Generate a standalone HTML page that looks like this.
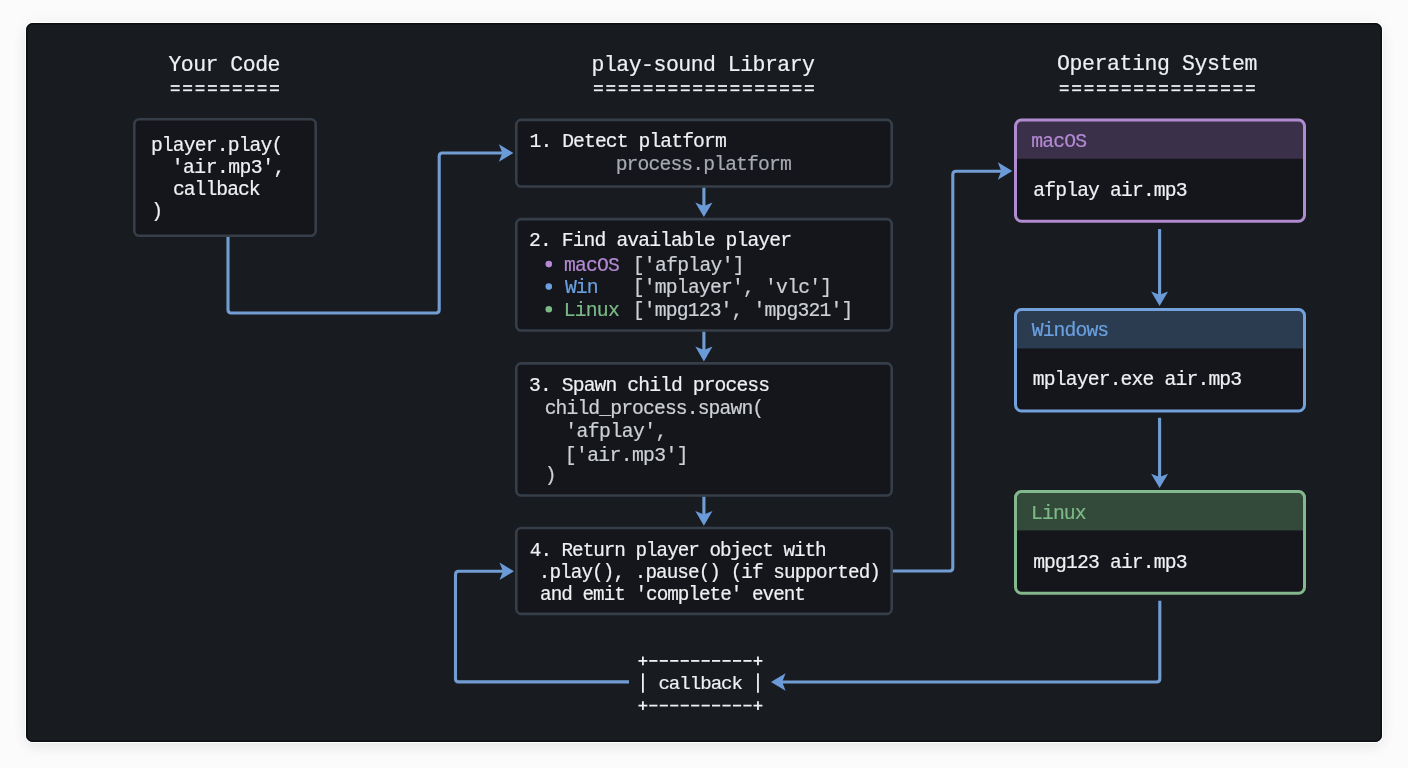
<!DOCTYPE html>
<html><head><meta charset="utf-8"><style>
html,body{margin:0;padding:0;width:1408px;height:768px;overflow:hidden;background:#fbfbfb;}
#panel{position:absolute;left:26px;top:23px;width:1356px;height:719px;border-radius:7px;background:#181c21;box-shadow:inset 0 0 0 1.5px #0b0d11,0 0 0 1px #ffffff,0 5px 14px rgba(0,0,0,0.07),0 0 20px rgba(0,0,0,0.035);}
svg{position:absolute;left:0;top:0;will-change:transform;}
text{font-family:"Liberation Mono",monospace;}
</style></head><body>
<div id="panel"></div>
<svg width="1408" height="768" viewBox="0 0 1408 768">
<rect x="134.30" y="119.30" width="181.40" height="116.40" rx="5" fill="#14161b" stroke="#363e49" stroke-width="2.6"/>
<rect x="516.30" y="119.90" width="375.40" height="66.60" rx="5" fill="#14161b" stroke="#363e49" stroke-width="2.6"/>
<rect x="516.30" y="219.10" width="375.40" height="111.40" rx="5" fill="#14161b" stroke="#363e49" stroke-width="2.6"/>
<rect x="516.30" y="363.40" width="375.40" height="132.10" rx="5" fill="#14161b" stroke="#363e49" stroke-width="2.6"/>
<rect x="516.30" y="528.00" width="375.40" height="85.90" rx="5" fill="#14161b" stroke="#363e49" stroke-width="2.6"/>
<clipPath id="c118"><rect x="1014" y="118.6" width="292" height="104.20000000000002" rx="7"/></clipPath><g clip-path="url(#c118)"><rect x="1014" y="118.6" width="292" height="104.20000000000002" fill="#14161b"/><rect x="1014" y="118.6" width="292" height="40.20000000000002" fill="#3a3049"/></g><rect x="1015.50" y="120.10" width="289.00" height="101.20" rx="6" fill="none" stroke="#b08bcf" stroke-width="3"/>
<clipPath id="c308"><rect x="1014" y="308.1" width="292" height="104.39999999999998" rx="7"/></clipPath><g clip-path="url(#c308)"><rect x="1014" y="308.1" width="292" height="104.39999999999998" fill="#14161b"/><rect x="1014" y="308.1" width="292" height="40.299999999999955" fill="#2b3c51"/></g><rect x="1015.50" y="309.60" width="289.00" height="101.40" rx="6" fill="none" stroke="#72a1dc" stroke-width="3"/>
<clipPath id="c490"><rect x="1014" y="490.1" width="292" height="104.69999999999993" rx="7"/></clipPath><g clip-path="url(#c490)"><rect x="1014" y="490.1" width="292" height="104.69999999999993" fill="#14161b"/><rect x="1014" y="490.1" width="292" height="40.299999999999955" fill="#33493a"/></g><rect x="1015.50" y="491.60" width="289.00" height="101.70" rx="6" fill="none" stroke="#84b88d" stroke-width="3"/>
<path d="M228,237 L228.00,309.80 Q228,313 231.20,313.00 L436.00,313.00 Q439.2,313 439.20,309.80 L439.20,156.20 Q439.2,153 442.40,153.00 L507,153" fill="none" stroke="#729dd3" stroke-width="3.1" stroke-linejoin="round" stroke-linecap="butt"/>
<polygon points="513.40,153.00 498.90,144.30 502.30,153.00 498.90,161.70" fill="#6a9bd8"/>
<path d="M703.9,187.8 V211" fill="none" stroke="#729dd3" stroke-width="3.1" stroke-linejoin="round" stroke-linecap="butt"/>
<polygon points="703.90,217.10 695.30,202.50 703.90,205.90 712.50,202.50" fill="#6a9bd8"/>
<path d="M703.9,331.8 V355" fill="none" stroke="#729dd3" stroke-width="3.1" stroke-linejoin="round" stroke-linecap="butt"/>
<polygon points="703.90,361.50 695.30,346.50 703.90,349.90 712.50,346.50" fill="#6a9bd8"/>
<path d="M703.9,496.8 V520" fill="none" stroke="#729dd3" stroke-width="3.1" stroke-linejoin="round" stroke-linecap="butt"/>
<polygon points="703.90,525.80 695.30,511.10 703.90,514.50 712.50,511.10" fill="#6a9bd8"/>
<path d="M893,571 L949.60,571.00 Q952.8,571 952.80,567.80 L952.80,174.40 Q952.8,171.2 956.00,171.20 L1006,171.2" fill="none" stroke="#729dd3" stroke-width="3.1" stroke-linejoin="round" stroke-linecap="butt"/>
<polygon points="1012.30,171.00 997.80,162.30 1001.20,171.00 997.80,179.70" fill="#6a9bd8"/>
<path d="M1159.6,229.1 V300" fill="none" stroke="#729dd3" stroke-width="3.1" stroke-linejoin="round" stroke-linecap="butt"/>
<polygon points="1159.60,306.00 1151.10,291.60 1159.60,294.80 1168.10,291.60" fill="#6a9bd8"/>
<path d="M1159.6,417.8 V482" fill="none" stroke="#729dd3" stroke-width="3.1" stroke-linejoin="round" stroke-linecap="butt"/>
<polygon points="1159.60,488.10 1151.10,473.80 1159.60,477.00 1168.10,473.80" fill="#6a9bd8"/>
<path d="M1159.8,600.7 L1159.80,678.80 Q1159.8,682 1156.60,682.00 L777,682" fill="none" stroke="#729dd3" stroke-width="3.1" stroke-linejoin="round" stroke-linecap="butt"/>
<polygon points="770.90,682.00 785.60,673.35 782.20,682.00 785.60,690.65" fill="#6a9bd8"/>
<path d="M629,681.9 L458.70,681.90 Q455.5,681.9 455.50,678.70 L455.50,574.50 Q455.5,571.3 458.70,571.30 L508,571.3" fill="none" stroke="#729dd3" stroke-width="3.1" stroke-linejoin="round" stroke-linecap="butt"/>
<polygon points="514.00,571.20 499.50,562.50 502.90,571.20 499.50,579.90" fill="#6a9bd8"/>
<text x="168.42" y="70.80" font-size="21.50" letter-spacing="-0.513" fill="#eef0f2" stroke="#eef0f2" stroke-width="0.2" xml:space="preserve">Your Code</text>
<text x="591.62" y="70.50" font-size="21.50" letter-spacing="-0.524" fill="#eef0f2" stroke="#eef0f2" stroke-width="0.2" xml:space="preserve">play-sound Library</text>
<text x="1057.03" y="70.30" font-size="21.50" letter-spacing="-0.409" fill="#eef0f2" stroke="#eef0f2" stroke-width="0.2" xml:space="preserve">Operating System</text>
<text x="150.88" y="150.70" font-size="19.70" letter-spacing="-0.843" fill="#eef0f2" stroke="#eef0f2" stroke-width="0.2" xml:space="preserve">player.play(</text>
<text x="149.16" y="172.90" font-size="19.70" letter-spacing="-0.513" fill="#eef0f2" stroke="#eef0f2" stroke-width="0.2" xml:space="preserve">  'air.mp3',</text>
<text x="151.26" y="195.40" font-size="19.70" letter-spacing="-0.973" fill="#eef0f2" stroke="#eef0f2" stroke-width="0.2" xml:space="preserve">  callback</text>
<text x="151.27" y="216.90" font-size="19.70" letter-spacing="0.000" fill="#eef0f2" stroke="#eef0f2" stroke-width="0.2" xml:space="preserve">)</text>
<text x="529.48" y="146.50" font-size="19.70" letter-spacing="-0.908" fill="#eef0f2" stroke="#eef0f2" stroke-width="0.2" xml:space="preserve">1. Detect platform</text>
<text x="615.68" y="170.30" font-size="19.70" letter-spacing="-0.866" fill="#a6aab1" stroke="#a6aab1" stroke-width="0.2" xml:space="preserve">process.platform</text>
<text x="529.01" y="246.10" font-size="19.70" letter-spacing="-0.892" fill="#eef0f2" stroke="#eef0f2" stroke-width="0.2" xml:space="preserve">2. Find available player</text>
<circle cx="548.8" cy="264.1" r="3.3" fill="#b48ad4"/>
<text x="563.95" y="270.90" font-size="19.70" letter-spacing="-0.820" fill="#b48ad4" stroke="#b48ad4" stroke-width="0.2" xml:space="preserve">macOS</text>
<text x="632.76" y="270.90" font-size="19.70" letter-spacing="-0.699" fill="#cdd0d5" stroke="#cdd0d5" stroke-width="0.2" xml:space="preserve">['afplay']</text>
<circle cx="548.8" cy="286.6" r="3.3" fill="#6aa0e0"/>
<text x="564.90" y="293.10" font-size="19.70" letter-spacing="-0.865" fill="#6aa0e0" stroke="#6aa0e0" stroke-width="0.2" xml:space="preserve">Win</text>
<text x="632.76" y="293.10" font-size="19.70" letter-spacing="-0.786" fill="#cdd0d5" stroke="#cdd0d5" stroke-width="0.2" xml:space="preserve">['mplayer', 'vlc']</text>
<circle cx="548.8" cy="309.2" r="3.3" fill="#7bba86"/>
<text x="563.72" y="315.60" font-size="19.70" letter-spacing="-0.775" fill="#7bba86" stroke="#7bba86" stroke-width="0.2" xml:space="preserve">Linux</text>
<text x="632.76" y="315.60" font-size="19.70" letter-spacing="-0.831" fill="#cdd0d5" stroke="#cdd0d5" stroke-width="0.2" xml:space="preserve">['mpg123', 'mpg321']</text>
<text x="529.07" y="390.50" font-size="19.70" letter-spacing="-0.899" fill="#eef0f2" stroke="#eef0f2" stroke-width="0.2" xml:space="preserve">3. Spawn child process</text>
<text x="544.65" y="414.10" font-size="19.70" letter-spacing="-0.884" fill="#cdd0d5" stroke="#cdd0d5" stroke-width="0.2" xml:space="preserve">child_process.spawn(</text>
<text x="565.27" y="436.60" font-size="19.70" letter-spacing="-0.537" fill="#cdd0d5" stroke="#cdd0d5" stroke-width="0.2" xml:space="preserve">'afplay',</text>
<text x="564.76" y="460.50" font-size="19.70" letter-spacing="-0.621" fill="#cdd0d5" stroke="#cdd0d5" stroke-width="0.2" xml:space="preserve">['air.mp3']</text>
<text x="544.77" y="481.10" font-size="19.70" letter-spacing="0.000" fill="#cdd0d5" stroke="#cdd0d5" stroke-width="0.2" xml:space="preserve">)</text>
<text x="529.83" y="555.50" font-size="19.30" letter-spacing="-1.006" fill="#eef0f2" stroke="#eef0f2" stroke-width="0.2" xml:space="preserve">4. Return player object with</text>
<text x="538.73" y="578.40" font-size="19.30" letter-spacing="-0.905" fill="#eef0f2" stroke="#eef0f2" stroke-width="0.2" xml:space="preserve">.play(), .pause() (if supported)</text>
<text x="540.09" y="600.20" font-size="19.30" letter-spacing="-0.975" fill="#eef0f2" stroke="#eef0f2" stroke-width="0.2" xml:space="preserve">and emit 'complete' event</text>
<text x="1031.25" y="146.90" font-size="19.70" letter-spacing="-0.795" fill="#b48ad4" stroke="#b48ad4" stroke-width="0.2" xml:space="preserve">macOS</text>
<text x="1033.37" y="196.10" font-size="19.70" letter-spacing="-0.862" fill="#eef0f2" stroke="#eef0f2" stroke-width="0.2" xml:space="preserve">afplay air.mp3</text>
<text x="1031.70" y="336.30" font-size="19.70" letter-spacing="-0.869" fill="#6aa0e0" stroke="#6aa0e0" stroke-width="0.2" xml:space="preserve">Windows</text>
<text x="1032.85" y="385.30" font-size="19.70" letter-spacing="-0.843" fill="#eef0f2" stroke="#eef0f2" stroke-width="0.2" xml:space="preserve">mplayer.exe air.mp3</text>
<text x="1031.02" y="519.00" font-size="19.70" letter-spacing="-0.875" fill="#7bba86" stroke="#7bba86" stroke-width="0.2" xml:space="preserve">Linux</text>
<text x="1033.15" y="567.60" font-size="19.70" letter-spacing="-0.845" fill="#eef0f2" stroke="#eef0f2" stroke-width="0.2" xml:space="preserve">mpg123 air.mp3</text>
<rect x="170.70" y="85.1" width="9.0" height="1.8" fill="#eef0f2"/><rect x="170.70" y="89.4" width="9.0" height="1.8" fill="#eef0f2"/><rect x="183.11" y="85.1" width="9.0" height="1.8" fill="#eef0f2"/><rect x="183.11" y="89.4" width="9.0" height="1.8" fill="#eef0f2"/><rect x="195.52" y="85.1" width="9.0" height="1.8" fill="#eef0f2"/><rect x="195.52" y="89.4" width="9.0" height="1.8" fill="#eef0f2"/><rect x="207.93" y="85.1" width="9.0" height="1.8" fill="#eef0f2"/><rect x="207.93" y="89.4" width="9.0" height="1.8" fill="#eef0f2"/><rect x="220.34" y="85.1" width="9.0" height="1.8" fill="#eef0f2"/><rect x="220.34" y="89.4" width="9.0" height="1.8" fill="#eef0f2"/><rect x="232.75" y="85.1" width="9.0" height="1.8" fill="#eef0f2"/><rect x="232.75" y="89.4" width="9.0" height="1.8" fill="#eef0f2"/><rect x="245.16" y="85.1" width="9.0" height="1.8" fill="#eef0f2"/><rect x="245.16" y="89.4" width="9.0" height="1.8" fill="#eef0f2"/><rect x="257.57" y="85.1" width="9.0" height="1.8" fill="#eef0f2"/><rect x="257.57" y="89.4" width="9.0" height="1.8" fill="#eef0f2"/><rect x="269.98" y="85.1" width="9.0" height="1.8" fill="#eef0f2"/><rect x="269.98" y="89.4" width="9.0" height="1.8" fill="#eef0f2"/>
<rect x="593.90" y="85.1" width="9.0" height="1.8" fill="#eef0f2"/><rect x="593.90" y="89.4" width="9.0" height="1.8" fill="#eef0f2"/><rect x="606.31" y="85.1" width="9.0" height="1.8" fill="#eef0f2"/><rect x="606.31" y="89.4" width="9.0" height="1.8" fill="#eef0f2"/><rect x="618.72" y="85.1" width="9.0" height="1.8" fill="#eef0f2"/><rect x="618.72" y="89.4" width="9.0" height="1.8" fill="#eef0f2"/><rect x="631.13" y="85.1" width="9.0" height="1.8" fill="#eef0f2"/><rect x="631.13" y="89.4" width="9.0" height="1.8" fill="#eef0f2"/><rect x="643.54" y="85.1" width="9.0" height="1.8" fill="#eef0f2"/><rect x="643.54" y="89.4" width="9.0" height="1.8" fill="#eef0f2"/><rect x="655.95" y="85.1" width="9.0" height="1.8" fill="#eef0f2"/><rect x="655.95" y="89.4" width="9.0" height="1.8" fill="#eef0f2"/><rect x="668.36" y="85.1" width="9.0" height="1.8" fill="#eef0f2"/><rect x="668.36" y="89.4" width="9.0" height="1.8" fill="#eef0f2"/><rect x="680.77" y="85.1" width="9.0" height="1.8" fill="#eef0f2"/><rect x="680.77" y="89.4" width="9.0" height="1.8" fill="#eef0f2"/><rect x="693.18" y="85.1" width="9.0" height="1.8" fill="#eef0f2"/><rect x="693.18" y="89.4" width="9.0" height="1.8" fill="#eef0f2"/><rect x="705.59" y="85.1" width="9.0" height="1.8" fill="#eef0f2"/><rect x="705.59" y="89.4" width="9.0" height="1.8" fill="#eef0f2"/><rect x="718.00" y="85.1" width="9.0" height="1.8" fill="#eef0f2"/><rect x="718.00" y="89.4" width="9.0" height="1.8" fill="#eef0f2"/><rect x="730.41" y="85.1" width="9.0" height="1.8" fill="#eef0f2"/><rect x="730.41" y="89.4" width="9.0" height="1.8" fill="#eef0f2"/><rect x="742.82" y="85.1" width="9.0" height="1.8" fill="#eef0f2"/><rect x="742.82" y="89.4" width="9.0" height="1.8" fill="#eef0f2"/><rect x="755.23" y="85.1" width="9.0" height="1.8" fill="#eef0f2"/><rect x="755.23" y="89.4" width="9.0" height="1.8" fill="#eef0f2"/><rect x="767.64" y="85.1" width="9.0" height="1.8" fill="#eef0f2"/><rect x="767.64" y="89.4" width="9.0" height="1.8" fill="#eef0f2"/><rect x="780.05" y="85.1" width="9.0" height="1.8" fill="#eef0f2"/><rect x="780.05" y="89.4" width="9.0" height="1.8" fill="#eef0f2"/><rect x="792.46" y="85.1" width="9.0" height="1.8" fill="#eef0f2"/><rect x="792.46" y="89.4" width="9.0" height="1.8" fill="#eef0f2"/><rect x="804.87" y="85.1" width="9.0" height="1.8" fill="#eef0f2"/><rect x="804.87" y="89.4" width="9.0" height="1.8" fill="#eef0f2"/>
<rect x="1059.70" y="85.1" width="9.0" height="1.8" fill="#eef0f2"/><rect x="1059.70" y="89.4" width="9.0" height="1.8" fill="#eef0f2"/><rect x="1072.11" y="85.1" width="9.0" height="1.8" fill="#eef0f2"/><rect x="1072.11" y="89.4" width="9.0" height="1.8" fill="#eef0f2"/><rect x="1084.52" y="85.1" width="9.0" height="1.8" fill="#eef0f2"/><rect x="1084.52" y="89.4" width="9.0" height="1.8" fill="#eef0f2"/><rect x="1096.93" y="85.1" width="9.0" height="1.8" fill="#eef0f2"/><rect x="1096.93" y="89.4" width="9.0" height="1.8" fill="#eef0f2"/><rect x="1109.34" y="85.1" width="9.0" height="1.8" fill="#eef0f2"/><rect x="1109.34" y="89.4" width="9.0" height="1.8" fill="#eef0f2"/><rect x="1121.75" y="85.1" width="9.0" height="1.8" fill="#eef0f2"/><rect x="1121.75" y="89.4" width="9.0" height="1.8" fill="#eef0f2"/><rect x="1134.16" y="85.1" width="9.0" height="1.8" fill="#eef0f2"/><rect x="1134.16" y="89.4" width="9.0" height="1.8" fill="#eef0f2"/><rect x="1146.57" y="85.1" width="9.0" height="1.8" fill="#eef0f2"/><rect x="1146.57" y="89.4" width="9.0" height="1.8" fill="#eef0f2"/><rect x="1158.98" y="85.1" width="9.0" height="1.8" fill="#eef0f2"/><rect x="1158.98" y="89.4" width="9.0" height="1.8" fill="#eef0f2"/><rect x="1171.39" y="85.1" width="9.0" height="1.8" fill="#eef0f2"/><rect x="1171.39" y="89.4" width="9.0" height="1.8" fill="#eef0f2"/><rect x="1183.80" y="85.1" width="9.0" height="1.8" fill="#eef0f2"/><rect x="1183.80" y="89.4" width="9.0" height="1.8" fill="#eef0f2"/><rect x="1196.21" y="85.1" width="9.0" height="1.8" fill="#eef0f2"/><rect x="1196.21" y="89.4" width="9.0" height="1.8" fill="#eef0f2"/><rect x="1208.62" y="85.1" width="9.0" height="1.8" fill="#eef0f2"/><rect x="1208.62" y="89.4" width="9.0" height="1.8" fill="#eef0f2"/><rect x="1221.03" y="85.1" width="9.0" height="1.8" fill="#eef0f2"/><rect x="1221.03" y="89.4" width="9.0" height="1.8" fill="#eef0f2"/><rect x="1233.44" y="85.1" width="9.0" height="1.8" fill="#eef0f2"/><rect x="1233.44" y="89.4" width="9.0" height="1.8" fill="#eef0f2"/><rect x="1245.85" y="85.1" width="9.0" height="1.8" fill="#eef0f2"/><rect x="1245.85" y="89.4" width="9.0" height="1.8" fill="#eef0f2"/>
<rect x="638.45" y="660.00" width="8.9" height="1.8" fill="#eef0f2"/><rect x="642.00" y="656.50" width="1.8" height="8.8" fill="#eef0f2"/><rect x="753.51" y="660.00" width="8.9" height="1.8" fill="#eef0f2"/><rect x="757.06" y="656.50" width="1.8" height="8.8" fill="#eef0f2"/><rect x="649.26" y="660.00" width="8.2" height="1.8" fill="#eef0f2"/><rect x="659.72" y="660.00" width="8.2" height="1.8" fill="#eef0f2"/><rect x="670.18" y="660.00" width="8.2" height="1.8" fill="#eef0f2"/><rect x="680.64" y="660.00" width="8.2" height="1.8" fill="#eef0f2"/><rect x="691.10" y="660.00" width="8.2" height="1.8" fill="#eef0f2"/><rect x="701.56" y="660.00" width="8.2" height="1.8" fill="#eef0f2"/><rect x="712.02" y="660.00" width="8.2" height="1.8" fill="#eef0f2"/><rect x="722.48" y="660.00" width="8.2" height="1.8" fill="#eef0f2"/><rect x="732.94" y="660.00" width="8.2" height="1.8" fill="#eef0f2"/><rect x="743.40" y="660.00" width="8.2" height="1.8" fill="#eef0f2"/><rect x="638.45" y="704.70" width="8.9" height="1.8" fill="#eef0f2"/><rect x="642.00" y="701.20" width="1.8" height="8.8" fill="#eef0f2"/><rect x="753.51" y="704.70" width="8.9" height="1.8" fill="#eef0f2"/><rect x="757.06" y="701.20" width="1.8" height="8.8" fill="#eef0f2"/><rect x="649.26" y="704.70" width="8.2" height="1.8" fill="#eef0f2"/><rect x="659.72" y="704.70" width="8.2" height="1.8" fill="#eef0f2"/><rect x="670.18" y="704.70" width="8.2" height="1.8" fill="#eef0f2"/><rect x="680.64" y="704.70" width="8.2" height="1.8" fill="#eef0f2"/><rect x="691.10" y="704.70" width="8.2" height="1.8" fill="#eef0f2"/><rect x="701.56" y="704.70" width="8.2" height="1.8" fill="#eef0f2"/><rect x="712.02" y="704.70" width="8.2" height="1.8" fill="#eef0f2"/><rect x="722.48" y="704.70" width="8.2" height="1.8" fill="#eef0f2"/><rect x="732.94" y="704.70" width="8.2" height="1.8" fill="#eef0f2"/><rect x="743.40" y="704.70" width="8.2" height="1.8" fill="#eef0f2"/><rect x="642.00" y="673.3" width="1.8" height="19.5" fill="#eef0f2"/><rect x="757.06" y="673.3" width="1.8" height="19.5" fill="#eef0f2"/>
<text x="658.39" y="689.40" font-size="19.10" letter-spacing="-1.000" fill="#eef0f2" stroke="#eef0f2" stroke-width="0.2" xml:space="preserve">callback</text>
</svg>
</body></html>
